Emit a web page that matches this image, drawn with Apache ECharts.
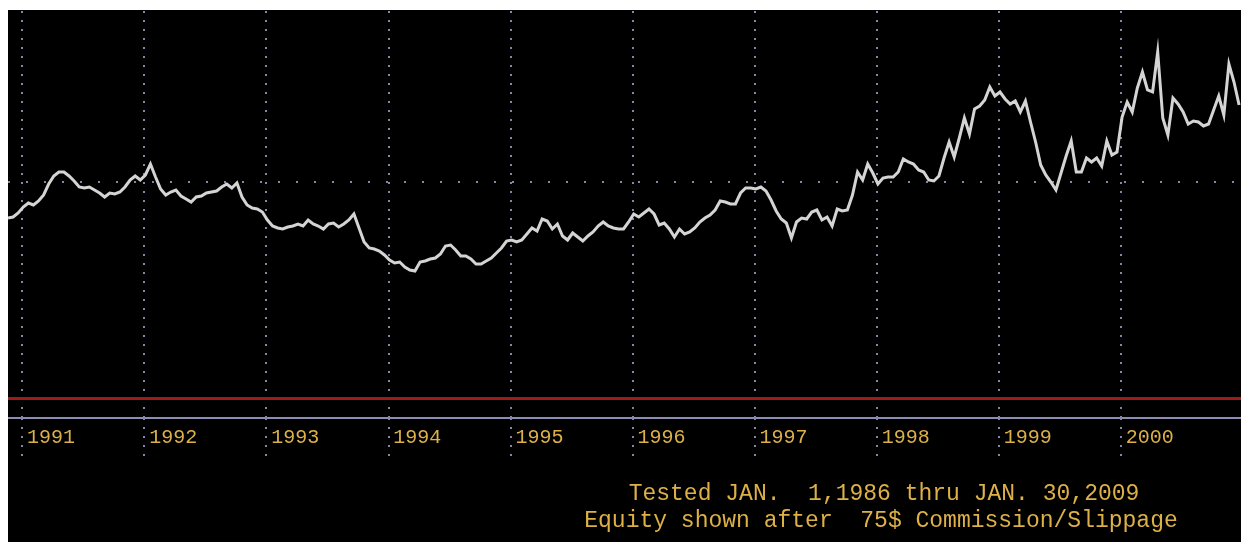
<!DOCTYPE html>
<html>
<head>
<meta charset="utf-8">
<script src="https://cdn.jsdelivr.net/npm/echarts@6/dist/echarts.min.js"></script>
<style>
  html, body { margin: 0; padding: 0; background: #ffffff; width: 1241px; height: 542px; overflow: hidden; }
  #panel { position: absolute; left: 8px; top: 10px; width: 1233px; height: 532px; background: #000000; }
  #chart { width: 1233px; height: 532px; }
</style>
</head>
<body>
<div id="panel"><div id="chart"></div></div>
<script>
// ---- data ----
const startYear = 1990.885;           // first sample (semi-monthly samples)
const samplesPerYear = 24;
const yearTicks = [1991, 1992, 1993, 1994, 1995, 1996, 1997, 1998, 1999, 2000];
const equity = [
  45000,45250,46250,47750,48750,48250,49250,50750,53500,55500,56500,56500,55500,54250,52750,52500,52750,52000,51250,50250,51250,51000,51500,52750,
  54500,55500,54500,55750,58500,55250,52250,50750,51500,52000,50500,49750,49000,50250,50500,51250,51500,51750,52750,53500,52500,53750,50250,48250,
  47500,47250,46500,44500,43000,42500,42250,42750,43000,43500,43000,44500,43500,43000,42250,43500,43750,42750,43500,44500,46000,42500,39000,37500,
  37250,36750,35750,34500,33750,34000,32750,32000,31750,34000,34250,34750,35000,36000,38000,38250,37000,35500,35500,34750,33500,33500,34250,35000,
  36250,37500,39250,39500,39000,39500,41000,42500,41750,44750,44250,42250,43500,40500,39500,41250,40250,39250,40500,41500,43000,44000,43000,42500,
  42250,42250,44000,46000,45250,46250,47250,46000,43250,43750,42250,40250,42250,41000,41500,42500,44000,45000,45750,47000,49250,49000,48500,48500,
  51250,52500,52500,52250,52750,51750,49500,46750,44750,43750,40000,44000,45000,44750,46500,47000,44500,45250,43000,47250,46750,47000,50750,56500,
  54500,58500,56250,53500,55000,55250,55250,56500,59750,59000,58500,57000,56500,54500,54250,55500,60000,64000,60250,65000,70000,66000,72250,73000,
  74500,77750,75500,76500,74750,73500,74250,71500,74250,69000,64000,58250,55750,54000,52000,56250,60500,64250,56500,56500,60000,59000,60000,58000,
  64250,60750,61500,70250,74000,71500,77500,81500,77000,76500,86500,70000,65750,75000,73500,71500,68500,69250,69000,68000,68500,72000,75500,70750,
  83500,79000,73250
];
const zeroLevel = 0;
const refLevel = 54000;
const footerLines = ['Tested JAN.  1,1986 thru JAN. 30,2009', 'Equity shown after  75$ Commission/Slippage'];

// ---- chart ----
const seriesData = equity.map((v, i) => [startYear + i / samplesPerYear, v]);
const dotColor = '#8686aa';
const textColor = '#ddb048';

const markData = yearTicks.map(y => ({
  xAxis: y,
  lineStyle: { color: dotColor, width: 2, type: [2, 7] }
}));
markData.push({ yAxis: refLevel, lineStyle: { color: dotColor, width: 2, type: [2, 16] } });
markData.push({ yAxis: zeroLevel, lineStyle: { color: '#a01c1c', width: 3, type: 'solid' } });

const chart = echarts.init(document.getElementById('chart'), null, { renderer: 'canvas' });
chart.setOption({
  backgroundColor: '#000000',
  animation: false,
  grid: { left: 0, right: 0, top: 0, bottom: 124, containLabel: false },
  xAxis: {
    type: 'value',
    min: 1990.885,
    max: 2000.984,
    splitLine: { show: false },
    axisLine: { show: true, onZero: false, lineStyle: { color: '#8c8cb4', width: 2 } },
    axisTick: {
      show: true, inside: false, length: 42, customValues: yearTicks,
      lineStyle: { color: dotColor, width: 2, type: [2, 7] }
    },
    axisLabel: {
      show: true, customValues: yearTicks, align: 'left', margin: 10,
      padding: [0, 0, 0, 5],
      color: textColor, fontFamily: 'Liberation Mono', fontSize: 20,
      formatter: v => String(Math.round(v))
    }
  },
  yAxis: {
    type: 'value',
    min: -5000,
    max: 97000,
    show: false,
    splitLine: { show: false }
  },
  series: [{
    type: 'line',
    data: seriesData,
    showSymbol: false,
    symbol: 'none',
    lineStyle: { color: '#d4d4d4', width: 3, join: 'miter' },
    z: 5,
    markLine: {
      silent: true,
      symbol: ['none', 'none'],
      label: { show: false },
      z: 1,
      data: markData
    }
  }],
  graphic: [
    { type: 'text', x: 876, y: 484,
      style: { text: footerLines[0], fill: textColor, font: '23px "Liberation Mono"', align: 'center', verticalAlign: 'middle' } },
    { type: 'text', x: 873, y: 511,
      style: { text: footerLines[1], fill: textColor, font: '23px "Liberation Mono"', align: 'center', verticalAlign: 'middle' } }
  ]
});
</script>
</body>
</html>
